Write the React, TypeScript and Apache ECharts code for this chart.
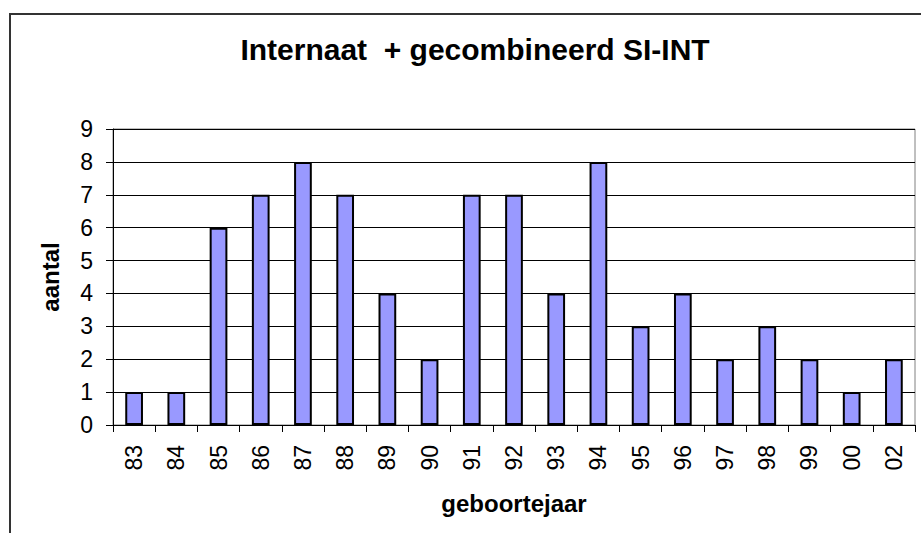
import React, { useEffect, useRef } from "react";
import * as echarts from "echarts";

const categories = ["83", "84", "85", "86", "87", "88", "89", "90", "91", "92", "93", "94", "95", "96", "97", "98", "99", "00", "02"];
const values = [1, 1, 6, 7, 8, 7, 4, 2, 7, 7, 4, 8, 3, 4, 2, 3, 2, 1, 2];
const titleText = "Internaat  + gecombineerd SI-INT";
const xName = "geboortejaar";
const yName = "aantal";

const FONT = "Arial, 'Liberation Sans', sans-serif";

export default function App() {
  const ref = useRef<HTMLDivElement>(null);
  useEffect(() => {
    if (!ref.current) return;
    const chart = echarts.init(ref.current, null, { renderer: "svg" });
    chart.setOption({
      animation: false,
      backgroundColor: "#ffffff",
      graphic: [
        {
          type: "rect",
          shape: { x: 10, y: 14, width: 1000, height: 700 },
          style: { fill: "none", stroke: "#333333", lineWidth: 2 },
          z: 0,
        },
        {
          type: "text",
          x: 475,
          y: 49,
          style: {
            text: titleText,
            font: `bold 30px ${FONT}`,
            fill: "#000",
            textAlign: "center",
            textVerticalAlign: "middle",
          },
        },
      ],
      grid: {
        left: 113,
        right: 6,
        top: 129,
        bottom: 108,
        show: true,
        borderColor: "#808080",
        borderWidth: 1,
        backgroundColor: "transparent",
      },
      xAxis: {
        type: "category",
        data: categories,
        name: xName,
        nameLocation: "middle",
        nameGap: 66,
        nameTextStyle: { fontFamily: FONT, fontWeight: "bold", fontSize: 24, color: "#000" },
        axisLine: { show: true, lineStyle: { color: "#000", width: 1 } },
        axisTick: { show: true, length: 7, alignWithLabel: false, lineStyle: { color: "#000" } },
        axisLabel: { rotate: 90, margin: 20, fontFamily: FONT, fontSize: 23, color: "#000" },
        splitLine: { show: false },
      },
      yAxis: {
        type: "value",
        min: 0,
        max: 9,
        interval: 1,
        name: yName,
        nameLocation: "middle",
        nameGap: 51,
        nameTextStyle: { fontFamily: FONT, fontWeight: "bold", fontSize: 24, color: "#000" },
        axisLine: { show: true, lineStyle: { color: "#000", width: 1 } },
        axisTick: { show: true, length: 7, lineStyle: { color: "#000" } },
        axisLabel: { margin: 20, fontFamily: FONT, fontSize: 23, color: "#000" },
        splitLine: { show: true, lineStyle: { color: "#000", width: 1 } },
      },
      series: [
        {
          type: "bar",
          data: values,
          barWidth: "42%",
          itemStyle: { color: "#9999FF", borderColor: "#000", borderWidth: 2 },
        },
      ],
    });
    return () => chart.dispose();
  }, []);
  return <div ref={ref} style={{ position: "fixed", left: 0, top: 0, width: 921, height: 533 }} />;
}
